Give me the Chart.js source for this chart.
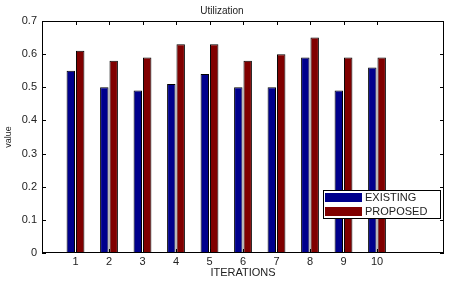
<!DOCTYPE html>
<html>
<head>
<meta charset="utf-8">
<script src="https://cdn.jsdelivr.net/npm/chart.js@4"></script>
<style>
  html, body { margin: 0; padding: 0; background: #fff; }
  #wrap { width: 449px; height: 284px; }
</style>
</head>
<body>
<div id="wrap"><canvas id="util-chart" width="449" height="284"></canvas></div>
<script>
const iterations = ['1', '2', '3', '4', '5', '6', '7', '8', '9', '10'];
const existing = [0.55, 0.50, 0.49, 0.51, 0.54, 0.50, 0.50, 0.59, 0.49, 0.56];
const proposed = [0.61, 0.58, 0.59, 0.63, 0.63, 0.58, 0.60, 0.65, 0.59, 0.59];
const yTicks = [0, 0.1, 0.2, 0.3, 0.4, 0.5, 0.6, 0.7];

// matlab style x range 0..12, so pad the categories with empty slots
const labels = [''].concat(iterations, ['', '']);
const pad = arr => [null].concat(arr, [null, null]);

const fontFam = '"Liberation Sans", Arial, sans-serif';
const txtColor = '#222';

// box around the axes with inward ticks on all four sides
const framePlugin = {
    id: 'frame',
    afterDatasetsDraw(chart) {
        const { ctx, chartArea: a, scales } = chart;
        ctx.save();
        ctx.strokeStyle = '#000';
        ctx.lineWidth = 1;
        ctx.strokeRect(a.left + 0.5, a.top + 0.5, a.right - a.left - 1, a.bottom - a.top - 1);
        ctx.beginPath();
        iterations.forEach((lab, i) => {
            const x = Math.round(scales.x.getPixelForValue(i + 1)) + 0.5;
            ctx.moveTo(x, a.bottom); ctx.lineTo(x, a.bottom - 4);
            ctx.moveTo(x, a.top); ctx.lineTo(x, a.top + 4);
        });
        yTicks.forEach(v => {
            const y = Math.round(scales.y.getPixelForValue(v)) + 0.5;
            ctx.moveTo(a.left, y); ctx.lineTo(a.left + 4, y);
            ctx.moveTo(a.right, y); ctx.lineTo(a.right - 4, y);
        });
        ctx.stroke();

        // legend inside the plot, lower right
        const lx = 323, ly = 190, lw = 117, lh = 28;
        ctx.fillStyle = '#fff';
        ctx.fillRect(lx, ly, lw, lh);
        ctx.strokeRect(lx + 0.5, ly + 0.5, lw, lh);
        ctx.font = '11px ' + fontFam;
        ctx.textBaseline = 'middle';
        chart.data.datasets.forEach((ds, i) => {
            const sy = ly + 3 + i * 14;
            ctx.fillStyle = ds.backgroundColor;
            ctx.fillRect(325, sy, 37, 9);
            ctx.fillStyle = txtColor;
            ctx.fillText(ds.label, 365, sy + 5);
        });
        ctx.restore();
    }
};

function init() {
    const ctx = document.getElementById('util-chart').getContext('2d');
    window.utilChart = new Chart(ctx, {
        type: 'bar',
        data: {
            labels: labels,
            datasets: [{
                label: 'EXISTING',
                data: pad(existing),
                backgroundColor: '#00008c',
                borderColor: '#000',
                borderWidth: 1
            }, {
                label: 'PROPOSED',
                data: pad(proposed),
                backgroundColor: '#800000',
                borderColor: '#000',
                borderWidth: 1
            }]
        },
        options: {
            responsive: false,
            animation: false,
            layout: { padding: { left: 0, right: 5, top: 0, bottom: 0 } },
            datasets: { bar: { categoryPercentage: 0.56, barPercentage: 0.9 } },
            plugins: {
                legend: { display: false },
                tooltip: { enabled: false },
                title: {
                    display: true,
                    text: 'Utilization',
                    color: txtColor,
                    font: { family: fontFam, size: 10, weight: 'normal' },
                    padding: { top: 5, bottom: 4 }
                }
            },
            scales: {
                x: {
                    type: 'category',
                    offset: false,
                    grid: { display: false, drawTicks: false },
                    border: { display: false },
                    ticks: {
                        autoSkip: false,
                        maxRotation: 0,
                        padding: 2,
                        color: txtColor,
                        font: { family: fontFam, size: 11 }
                    },
                    title: {
                        display: true,
                        text: 'ITERATIONS',
                        color: txtColor,
                        font: { family: fontFam, size: 11 },
                        padding: { top: 0, bottom: 4 }
                    },
                    afterFit(scale) { scale.height = 31; }
                },
                y: {
                    min: 0,
                    max: 0.7,
                    grid: { display: false, drawTicks: false },
                    border: { display: false },
                    ticks: {
                        stepSize: 0.1,
                        padding: 5,
                        color: txtColor,
                        font: { family: fontFam, size: 11 },
                        callback: v => Math.round(v * 10) / 10
                    },
                    title: {
                        display: true,
                        text: 'value',
                        color: txtColor,
                        font: { family: fontFam, size: 9 },
                        padding: { top: 3, bottom: 0 }
                    },
                    afterFit(scale) { scale.width = 42; }
                }
            }
        },
        plugins: [framePlugin]
    });
}

document.addEventListener('DOMContentLoaded', init);
</script>
</body>
</html>
